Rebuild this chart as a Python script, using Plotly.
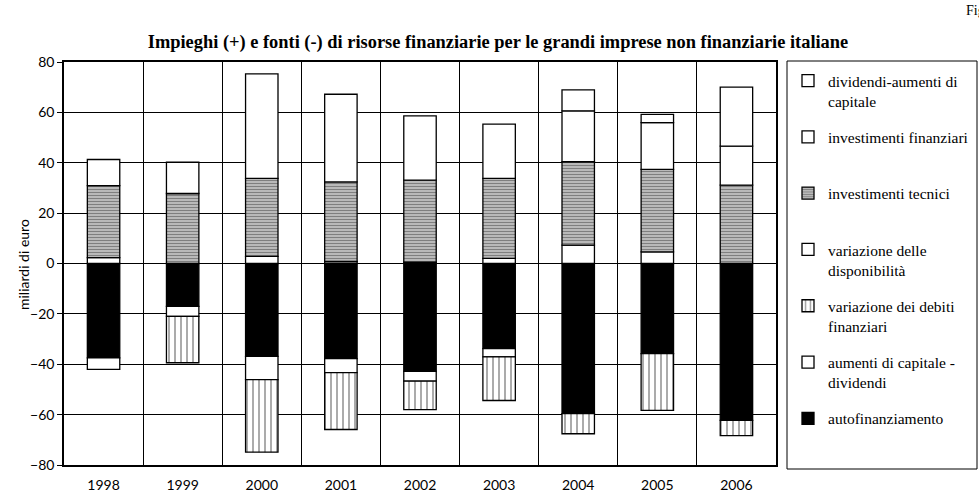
import plotly.graph_objects as go

# Years on the category axis
years = ["1998", "1999", "2000", "2001", "2002", "2003", "2004", "2005", "2006"]

# Sources (negative values, billions of euro)
autofinanziamento = [-37.5, -17.0, -36.9, -37.8, -42.8, -33.8, -59.6, -35.8, -62.3]
aumenti_capitale_dividendi = [-4.5, -4.0, -9.2, -5.5, -3.9, -3.3, None, None, None]
variazione_debiti = [None, -18.4, -28.8, -22.6, -11.3, -17.3, -8.0, -22.5, -6.0]

# Uses (positive values, billions of euro)
variazione_disponibilita = [2.3, None, 2.8, 0.8, 0.5, 2.0, 7.3, 4.6, None]
investimenti_tecnici = [28.6, 27.8, 31.0, 31.6, 32.6, 31.8, 33.1, 32.8, 31.1]
investimenti_finanziari = [10.4, 12.4, 41.5, 34.8, 25.5, 21.5, 20.2, 18.5, 15.5]
dividendi_aumenti = [None, None, None, None, None, None, 8.3, 3.3, 23.4]

y_ticks = [-80, -60, -40, -20, 0, 20, 40, 60, 80]

SERIF = "Liberation Serif"
SANS = "Lato"

W, H = 979, 493
ML, MR, MT, MB = 64, 203, 62, 28
PW, PH = W - ML - MR, H - MT - MB


def px_x(x):
    return (x - ML) / PW


def px_y(y):
    return (H - MB - y) / PH


series = [
    ("autofinanziamento", autofinanziamento,
     dict(color="black")),
    ("aumenti di capitale -<br>dividendi", aumenti_capitale_dividendi,
     dict(color="white")),
    ("variazione dei debiti<br>finanziari", variazione_debiti,
     dict(color="white", pattern=dict(shape="|", fgcolor="#444", bgcolor="white",
                                      size=6, solidity=0.3))),
    ("variazione delle<br>disponibilità", variazione_disponibilita,
     dict(color="white")),
    ("investimenti tecnici", investimenti_tecnici,
     dict(color="white", pattern=dict(shape="-", fgcolor="black", bgcolor="white",
                                      size=3, solidity=0.7))),
    ("investimenti finanziari", investimenti_finanziari,
     dict(color="white")),
    ("dividendi-aumenti di<br>capitale", dividendi_aumenti,
     dict(color="white")),
]

fig = go.Figure()
n = len(series)
for i, (name, vals, mk) in enumerate(series):
    label = name if "<br>" in name else name + "<br> "
    marker = dict(mk)
    marker["line"] = dict(color="black", width=1.3)
    fig.add_trace(go.Bar(
        x=years, y=vals, name=label, marker=marker,
        legendgroup=f"g{i}", legendrank=n - i, hoverinfo="x+y",
    ))

fig.update_layout(
    width=W, height=H,
    margin=dict(l=ML, r=MR, t=MT, b=MB, autoexpand=False),
    barmode="relative",
    bargap=0.59,
    plot_bgcolor="white",
    paper_bgcolor="white",
    title=dict(
        text="<b>Impieghi (+) e fonti (-) di risorse finanziarie per le grandi imprese non finanziarie italiane</b>",
        font=dict(family=SERIF, size=18.4, color="black"),
        x=498 / W, xanchor="center", y=1 - 42 / H, yanchor="middle",
    ),
    legend=dict(
        xref="container", yref="container",
        x=788 / W, xanchor="left",
        y=(H - 64) / H, yanchor="top",
        maxheight=420,
        traceorder="grouped",
        tracegroupgap=13,
        valign="top",
        font=dict(family=SERIF, size=15.5, color="black"),
        bgcolor="rgba(0,0,0,0)",
        borderwidth=0,
        itemwidth=30,
    ),
    xaxis=dict(
        type="category",
        tickson="boundaries",
        showgrid=True, gridcolor="black", gridwidth=1,
        showline=True, linecolor="black", linewidth=1.5, mirror=True,
        ticks="",
        ticklabelstandoff=6,
        tickfont=dict(family=SANS, size=14, color="black"),
    ),
    yaxis=dict(
        range=[-80, 80],
        tickvals=y_ticks,
        showgrid=True, gridcolor="black", gridwidth=1,
        zeroline=True, zerolinecolor="black", zerolinewidth=1,
        showline=True, linecolor="black", linewidth=1.5, mirror=True,
        ticks="outside", ticklen=5, tickcolor="black",
        tickfont=dict(family=SANS, size=14, color="black"),
    ),
    shapes=[
        dict(type="rect", xref="paper", yref="paper",
             x0=px_x(787), x1=px_x(977), y0=px_y(469), y1=px_y(61),
             line=dict(color="black", width=1), fillcolor="rgba(0,0,0,0)"),
    ],
    annotations=[
        dict(text="miliardi di euro", xref="paper", yref="paper",
             x=px_x(23), y=px_y(265), textangle=-90,
             xanchor="center", yanchor="middle", showarrow=False,
             font=dict(family=SANS, size=14, color="black")),
        dict(text="Fig.", xref="paper", yref="paper", x=px_x(964), y=px_y(1),
             xanchor="left", yanchor="top", showarrow=False,
             font=dict(family=SERIF, size=14, color="black")),
    ],
)

fig.write_html("out.html")
